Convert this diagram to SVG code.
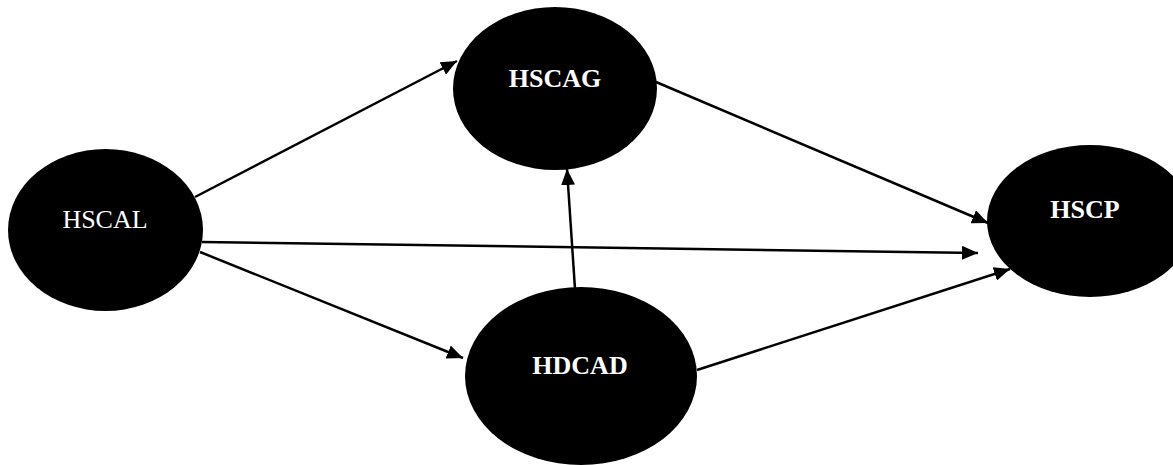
<svg xmlns="http://www.w3.org/2000/svg" width="1173" height="465" viewBox="0 0 1173 465">
<style>
.node{fill:#000;}
.lbl{font-family:"Liberation Serif","Times New Roman",serif;font-size:26px;fill:#fff;text-anchor:middle;}
.b{font-weight:bold;}
.edge{stroke:#000;stroke-width:2.5;fill:none;marker-end:url(#ah);}
</style>
<defs>
<marker id="ah" markerUnits="userSpaceOnUse" markerWidth="17" markerHeight="14" refX="16" refY="7" orient="auto">
<path d="M0,0 L16,7 L0,14 Z" fill="#000"/>
</marker>
</defs>
<rect width="1173" height="465" fill="#fff"/>
<g id="connectors">
<line class="edge" x1="195" y1="197" x2="457" y2="61"/>
<line class="edge" x1="202" y1="242" x2="978" y2="253"/>
<line class="edge" x1="200" y1="252" x2="463" y2="358"/>
<line class="edge" x1="575" y1="289" x2="567" y2="169"/>
<line class="edge" x1="656" y1="82" x2="988" y2="223"/>
<line class="edge" x1="697" y1="370" x2="1010" y2="269"/>
</g>
<g id="HSCAL">
<ellipse class="node" cx="105.5" cy="230" rx="97.5" ry="81"/>
<text class="lbl" x="105" y="228">HSCAL</text>
</g>
<g id="HSCAG">
<ellipse class="node" cx="555" cy="88.5" rx="102" ry="81.5"/>
<text class="lbl b" x="555" y="87">HSCAG</text>
</g>
<g id="HDCAD">
<ellipse class="node" cx="581" cy="376" rx="116" ry="89"/>
<text class="lbl b" x="580" y="374">HDCAD</text>
</g>
<g id="HSCP">
<ellipse class="node" cx="1090" cy="221" rx="103" ry="76"/>
<text class="lbl b" x="1085" y="218">HSCP</text>
</g>
</svg>
